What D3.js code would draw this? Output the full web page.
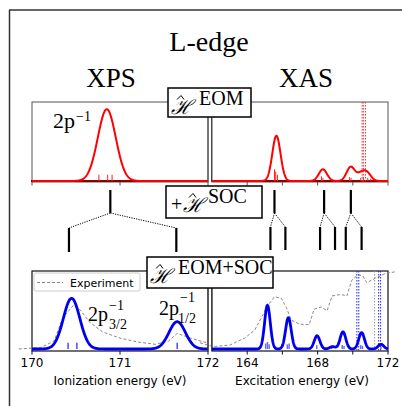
<!DOCTYPE html>
<html>
<head>
<meta charset="utf-8">
<script src="https://cdn.jsdelivr.net/npm/d3@7"></script>
<style>
  body { margin: 0; background: #fff; }
  svg { display: block; }
</style>
</head>
<body>
<svg id="chart" width="402" height="406"></svg>
<script>
// --- data ---
// XPS (ionization energy, eV) : [centre, height]
const xpsEomPeaks = [[170.85, 0.92]];
const xpsEomSticks = [[170.76, 0.08], [170.86, 0.08], [170.91, 0.08]];
const xpsSocPeaks = [[170.45, 0.65], [171.65, 0.35]];
const xpsSocSticks = [[170.41, 0.08], [170.51, 0.08], [171.65, 0.08]];
const xpsExperiment = [
  [169.85, 0.0], [170.1, 0.02], [170.25, 0.1], [170.35, 0.4], [170.47, 0.56],
  [170.55, 0.5], [170.65, 0.35], [170.8, 0.22], [171.0, 0.14], [171.2, 0.09],
  [171.4, 0.06], [171.55, 0.1], [171.65, 0.2], [171.8, 0.14], [171.95, 0.09], [172.0, 0.08]
];

// XAS (excitation energy, eV)
const xasEomPeaks = [[165.66, 0.58], [168.3, 0.15], [169.88, 0.18], [170.45, 0.08], [170.8, 0.1]];
const xasEomSticks = [[165.55, 0.15], [165.62, 0.12], [165.72, 0.08], [168.22, 0.06], [168.3, 0.04],
  [169.82, 0.05], [169.9, 0.04], [170.45, 0.04], [170.6, 0.05], [170.85, 0.04], [171.0, 0.03]];
const xasEomEdges = [170.53, 170.6, 170.72];
const xasSocPeaks = [[165.15, 0.56], [166.34, 0.40], [167.97, 0.17], [168.85, 0.03],
  [169.44, 0.22], [170.5, 0.21], [171.6, 0.06]];
const xasSocSticks = [[165.05, 0.07], [165.15, 0.09], [165.25, 0.06], [166.28, 0.06], [166.38, 0.07],
  [167.95, 0.05], [168.8, 0.04], [169.4, 0.05], [169.5, 0.04], [170.45, 0.05], [170.55, 0.04], [171.6, 0.03]];
const xasSocEdges = [170.23, 170.34, 171.47, 171.58];
const xasExpEdge = [171.24];
const xasExperiment = [
  [161.32, 0.08], [162.06, 0.03], [163.0, 0.05], [163.86, 0.14], [164.42, 0.24], [164.8, 0.4],
  [165.15, 0.55], [165.55, 0.67], [165.94, 0.65], [166.23, 0.53], [166.5, 0.37], [166.96, 0.32],
  [167.52, 0.31], [167.8, 0.51], [168.2, 0.54], [168.54, 0.49], [168.82, 0.68], [169.32, 0.7],
  [169.66, 0.68], [169.94, 0.88], [170.28, 0.95], [170.56, 0.94], [170.79, 0.85], [171.3, 0.91],
  [171.86, 0.97], [172.42, 0.99]
];

// SOC splitting diagram: [unsplit, lower, upper]
const xpsSplit = [[170.89, 170.42, 171.64]];
const xasSplit = [[165.55, 165.32, 166.17], [168.37, 168.14, 168.99], [169.89, 169.6, 170.5]];

const xpsTicks = [170, 171, 172];
const xasTopTicks = [164, 166, 168, 170, 172];
const xasBotTicks = [164, 166, 168, 170, 172];
const xasBotLabels = [164, 168, 172];

const widthXpsEom = 0.24, widthXpsSoc = 0.22, widthXasEom = 0.55, widthXasSoc = 0.38;

// --- layout ---
const svg = d3.select("#chart");
const serif = "'Liberation Serif', 'Times New Roman', serif";
const sans = "'DejaVu Sans', sans-serif";

const xL = d3.scaleLinear().domain([170, 172]).range([32, 208]);
const xR = d3.scaleLinear().domain([162, 172]).range([212, 388]);
const yTop = d3.scaleLinear().domain([0, 1]).range([181, 103]);
const yBot = d3.scaleLinear().domain([0, 1]).range([349, 271]);
const topBand = [102, 182], botBand = [271, 351];

// broadened stick spectrum
function broaden(peaks, fwhm, domain) {
  const s = fwhm / 2.3548;
  return d3.range(domain[0], domain[1] + 1e-9, (domain[1] - domain[0]) / 600).map(e =>
    [e, d3.sum(peaks, p => p[1] * Math.exp(-((e - p[0]) ** 2) / (2 * s * s)))]);
}

// outer frame
svg.append("line").attr("x1", 9).attr("y1", 10).attr("x2", 402).attr("y2", 10)
  .attr("stroke", "#333").attr("stroke-width", 1.5);
svg.append("line").attr("x1", 9.5).attr("y1", 10).attr("x2", 9.5).attr("y2", 406)
  .attr("stroke", "#333").attr("stroke-width", 1.5);

// titles
svg.append("text").attr("x", 209).attr("y", 51).attr("text-anchor", "middle")
  .style("font", `28px ${serif}`).text("L-edge");
svg.append("text").attr("x", 111).attr("y", 87).attr("text-anchor", "middle")
  .style("font", `27px ${serif}`).text("XPS");
svg.append("text").attr("x", 306).attr("y", 87).attr("text-anchor", "middle")
  .style("font", `27px ${serif}`).text("XAS");

// clip paths for panels
const defs = svg.append("defs");
[["cTL", xL, topBand], ["cTR", xR, topBand], ["cBL", xL, botBand], ["cBR", xR, botBand]].forEach(([id, x, y]) => {
  defs.append("clipPath").attr("id", id).append("rect")
    .attr("x", x.range()[0]).attr("y", y[0])
    .attr("width", x.range()[1] - x.range()[0]).attr("height", y[1] - y[0]);
});

function panel(x, y, ticks, stroke, sw) {
  const g = svg.append("g");
  g.append("rect").attr("x", x.range()[0]).attr("y", y[0])
    .attr("width", x.range()[1] - x.range()[0]).attr("height", y[1] - y[0])
    .attr("fill", "none").attr("stroke", stroke).attr("stroke-width", sw);
  g.selectAll(".tk").data(ticks).enter().append("line")
    .attr("x1", d => x(d)).attr("x2", d => x(d))
    .attr("y1", y[1]).attr("y2", y[1] + 3.5)
    .attr("stroke", stroke).attr("stroke-width", 1);
  return g;
}

const line = (x, y) => d3.line().x(d => x(d[0])).y(d => y(d[1]));

// ---- top panels (EOM) ----
panel(xL, topBand, xpsTicks, "#555", 1);
panel(xR, topBand, xasTopTicks, "#555", 1);
[xL, xR].forEach(x => {
  svg.append("line").attr("x1", x.range()[0] - 1).attr("x2", x.range()[1])
    .attr("y1", yTop(0)).attr("y2", yTop(0)).attr("stroke", "#8b0000").attr("stroke-width", 2);
});

function sticks(x, y, data, color, w, clip) {
  svg.append("g").attr("clip-path", `url(#${clip})`).selectAll("line").data(data).enter().append("line")
    .attr("x1", d => x(d[0])).attr("x2", d => x(d[0]))
    .attr("y1", y(0)).attr("y2", d => y(d[1]))
    .attr("stroke", color).attr("stroke-width", w);
}

sticks(xL, yTop, xpsEomSticks, "#ff2020", 1, "cTL");
svg.append("path").attr("clip-path", "url(#cTL)")
  .datum(broaden(xpsEomPeaks, widthXpsEom, xL.domain()))
  .attr("d", line(xL, yTop)).attr("fill", "none").attr("stroke", "#ff0000").attr("stroke-width", 2);

sticks(xR, yTop, xasEomSticks, "#ff2020", 1, "cTR");
svg.append("g").selectAll("line").data(xasEomEdges).enter().append("line")
  .attr("x1", d => xR(d)).attr("x2", d => xR(d)).attr("y1", topBand[0]).attr("y2", topBand[1])
  .attr("stroke", "#ff3030").attr("stroke-width", 1).attr("stroke-dasharray", "1.5,1.5");
svg.append("path").attr("clip-path", "url(#cTR)")
  .datum(broaden(xasEomPeaks, widthXasEom, xR.domain()))
  .attr("d", line(xR, yTop)).attr("fill", "none").attr("stroke", "#ff0000").attr("stroke-width", 2);

// 2p^-1 label
svg.append("text").attr("x", 53).attr("y", 128).style("font", `22px ${serif}`).text("2p");
svg.append("text").attr("x", 76).attr("y", 121).style("font", `14px ${serif}`).text("\u22121");

// ---- bottom panels (EOM+SOC) ----
panel(xL, botBand, xpsTicks, "#111", 1.2);
panel(xR, botBand, xasBotTicks, "#111", 1.2);

// experiment (drawn without clip, it runs past the frames)
svg.append("path").datum(xpsExperiment).attr("d", line(xL, yBot))
  .attr("fill", "none").attr("stroke", "#888").attr("stroke-width", 1).attr("stroke-dasharray", "3,2");
svg.append("path").datum(xasExperiment).attr("d", line(xR, yBot))
  .attr("fill", "none").attr("stroke", "#888").attr("stroke-width", 1).attr("stroke-dasharray", "3,2");

svg.append("g").selectAll("line").data(xasSocEdges).enter().append("line")
  .attr("x1", d => xR(d)).attr("x2", d => xR(d)).attr("y1", botBand[0]).attr("y2", botBand[1])
  .attr("stroke", "#2020ff").attr("stroke-width", 1).attr("stroke-dasharray", "1.5,1.5");
svg.append("g").selectAll("line").data(xasExpEdge).enter().append("line")
  .attr("x1", d => xR(d)).attr("x2", d => xR(d)).attr("y1", botBand[0]).attr("y2", botBand[1])
  .attr("stroke", "#999").attr("stroke-width", 1).attr("stroke-dasharray", "1.5,1.5");

sticks(xL, yBot, xpsSocSticks, "#4a4aff", 1.5, "cBL");
sticks(xR, yBot, xasSocSticks, "#6a6aff", 1.5, "cBR");
svg.append("path").attr("clip-path", "url(#cBL)")
  .datum(broaden(xpsSocPeaks, widthXpsSoc, xL.domain()))
  .attr("d", line(xL, yBot)).attr("fill", "none").attr("stroke", "#0000ee").attr("stroke-width", 2.8);
svg.append("path").attr("clip-path", "url(#cBR)")
  .datum(broaden(xasSocPeaks, widthXasSoc, xR.domain()))
  .attr("d", line(xR, yBot)).attr("fill", "none").attr("stroke", "#0000ee").attr("stroke-width", 2.8);

// tick labels
svg.append("g").selectAll("text").data(xpsTicks).enter().append("text")
  .attr("x", d => xL(d)).attr("y", 367).attr("text-anchor", "middle")
  .style("font", `12px ${sans}`).text(d => d);
svg.append("g").selectAll("text").data(xasBotLabels).enter().append("text")
  .attr("x", d => xR(d)).attr("y", 367).attr("text-anchor", "middle")
  .style("font", `12px ${sans}`).text(d => d);
svg.append("text").attr("x", 120).attr("y", 385).attr("text-anchor", "middle")
  .style("font", `12px ${sans}`).text("Ionization energy (eV)");
svg.append("text").attr("x", 302).attr("y", 385).attr("text-anchor", "middle")
  .style("font", `12px ${sans}`).text("Excitation energy (eV)");

// legend
svg.append("rect").attr("x", 34).attr("y", 273).attr("width", 106).attr("height", 18).attr("rx", 2)
  .attr("fill", "#fff").attr("fill-opacity", 0.85).attr("stroke", "#ccc").attr("stroke-width", 1);
svg.append("line").attr("x1", 37).attr("x2", 63).attr("y1", 282.5).attr("y2", 282.5)
  .attr("stroke", "#888").attr("stroke-width", 1).attr("stroke-dasharray", "3,2");
svg.append("text").attr("x", 70).attr("y", 286.5).style("font", `11px ${sans}`).text("Experiment");

// 2p3/2^-1 and 2p1/2^-1 labels
svg.append("text").attr("x", 88).attr("y", 321).style("font", `20px ${serif}`).text("2p");
svg.append("text").attr("x", 109).attr("y", 329).style("font", `14px ${serif}`).text("3/2");
svg.append("text").attr("x", 109).attr("y", 310).style("font", `14px ${serif}`).text("\u22121");
svg.append("text").attr("x", 159).attr("y", 315).style("font", `20px ${serif}`).text("2p");
svg.append("text").attr("x", 178).attr("y", 323).style("font", `14px ${serif}`).text("1/2");
svg.append("text").attr("x", 180).attr("y", 302).style("font", `14px ${serif}`).text("\u22121");

// double rule between the panels
[[117, 182], [288, 351]].forEach(([a, b]) => {
  [208, 211.5].forEach(x => {
    svg.append("line").attr("x1", x).attr("x2", x).attr("y1", a).attr("y2", b)
      .attr("stroke", "#444").attr("stroke-width", 1);
  });
});

// ---- SOC splitting diagram ----
function splitting(x, data, y0, y1, y2, y3) {
  const g = svg.append("g");
  data.forEach(d => {
    g.append("line").attr("x1", x(d[0])).attr("x2", x(d[0])).attr("y1", y0).attr("y2", y1)
      .attr("stroke", "#000").attr("stroke-width", 2.2);
    [d[1], d[2]].forEach(e => {
      g.append("line").attr("x1", x(d[0])).attr("y1", y1).attr("x2", x(e)).attr("y2", y2)
        .attr("stroke", "#000").attr("stroke-width", 1).attr("stroke-dasharray", "1.2,1.2");
      g.append("line").attr("x1", x(e)).attr("x2", x(e)).attr("y1", y2).attr("y2", y3)
        .attr("stroke", "#000").attr("stroke-width", 2.2);
    });
  });
}
splitting(xL, xpsSplit, 190, 213, 228, 252);
splitting(xR, xasSplit, 190, 213, 227, 250);

// ---- Hamiltonian boxes ----
function hBox(x, y, w, h, pre, sup, hx, supX) {
  svg.append("rect").attr("x", x).attr("y", y).attr("width", w).attr("height", h)
    .attr("fill", "#fff").attr("stroke", "#000").attr("stroke-width", 1.5);
  if (pre) svg.append("text").attr("x", x + 5).attr("y", y + 25).style("font", `20px ${serif}`).text(pre);
  svg.append("text").attr("x", hx).attr("y", y + 26)
    .style("font", `italic 20px 'DejaVu Serif', serif`).text("\u210B");
  // circumflex accent over the H
  svg.append("path").attr("d", `M${hx + 6},${y + 11.5} L${hx + 10},${y + 7.5} L${hx + 13},${y + 11.5}`)
    .attr("fill", "none").attr("stroke", "#000").attr("stroke-width", 1);
  svg.append("text").attr("x", supX).attr("y", y + 17).style("font", `20px ${serif}`).text(sup);
}
hBox(168, 88, 83, 29, null, "EOM", 171, 199);
hBox(166, 186, 96, 32, "+", "SOC", 183, 208);
hBox(147, 257, 126, 31, null, "EOM+SOC", 150, 178);
</script>
</body>
</html>
